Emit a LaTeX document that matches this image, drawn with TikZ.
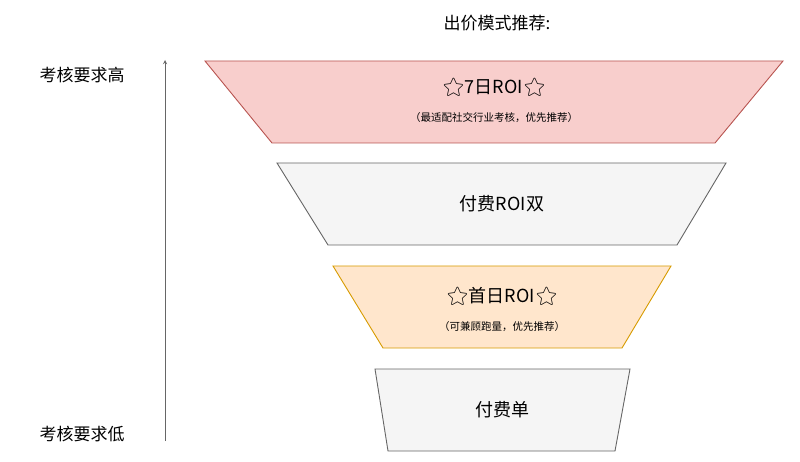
\documentclass[tikz,border=0pt]{standalone}
\usepackage{fontspec}
\newfontfamily\cjk{Noto Sans CJK SC}
\newfontfamily\emo{Noto Emoji}
\newcommand{\staricon}{{\emo ⭐}}
\definecolor{pinkfill}{HTML}{F8CECC}
\definecolor{pinkline}{HTML}{B85450}
\definecolor{greyfill}{HTML}{F5F5F5}
\definecolor{greyline}{HTML}{666666}
\definecolor{orangefill}{HTML}{FFE6CC}
\definecolor{orangeline}{HTML}{D79B00}
\begin{document}
\begin{tikzpicture}[x=1pt, y=-1pt, every node/.style={font=\cjk, inner sep=0}]
\useasboundingbox (0,0) rectangle (800,462);
\tikzset{level/.style={line width=0.9pt}}
%funnel levels
\filldraw[level, fill=pinkfill, draw=pinkline] (205,61) -- (783,61) -- (715,143) -- (272,143) -- cycle;
\filldraw[level, fill=greyfill, draw=greyline] (277,163) -- (726,163) -- (677,245) -- (328,245) -- cycle;
\filldraw[level, fill=orangefill, draw=orangeline] (333,266) -- (671,266) -- (622,348) -- (383,348) -- cycle;
\filldraw[level, fill=greyfill, draw=greyline] (375,369) -- (630,369) -- (615,451) -- (388,451) -- cycle;
%texts
\node[font=\cjk\fontsize{17}{20}\selectfont] (title) at (497,23) {出价模式推荐:};
\node[font=\cjk\fontsize{18}{22}\selectfont] (roi7) at (494,87) {\staricon{}7日ROI\staricon{}};
\node[font=\cjk\fontsize{10.5}{13}\selectfont] (roi7note) at (494,118) {（最适配社交行业考核，优先推荐）};
\node[font=\cjk\fontsize{18}{22}\selectfont] (roidouble) at (502,204) {付费ROI双};
\node[font=\cjk\fontsize{18}{22}\selectfont] (roi1) at (502,296) {\staricon{}首日ROI\staricon{}};
\node[font=\cjk\fontsize{10.5}{13}\selectfont] (roi1note) at (502,327) {（可兼顾跑量，优先推荐）};
\node[font=\cjk\fontsize{18}{22}\selectfont] (single) at (502,410) {付费单};
\node[font=\cjk\fontsize{17}{20}\selectfont] (high) at (82,75) {考核要求高};
\node[font=\cjk\fontsize{17}{20}\selectfont] (low) at (82,434) {考核要求低};
%axis
\coordinate (axisbot) at (165,441);
\coordinate (axistop) at (165,60);
\draw[->, >=stealth, greyline, line width=0.9pt] (axisbot) -- (axistop);
\end{tikzpicture}
\end{document}
